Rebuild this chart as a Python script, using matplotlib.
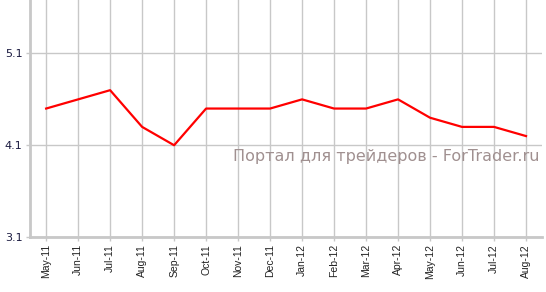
import matplotlib
matplotlib.use("Agg")
import matplotlib.pyplot as plt

months = ["May-11", "Jun-11", "Jul-11", "Aug-11", "Sep-11", "Oct-11", "Nov-11", "Dec-11",
          "Jan-12", "Feb-12", "Mar-12", "Apr-12", "May-12", "Jun-12", "Jul-12", "Aug-12"]
values = [4.5, 4.6, 4.7, 4.3, 4.1, 4.5, 4.5, 4.5,
          4.6, 4.5, 4.5, 4.6, 4.4, 4.3, 4.3, 4.2]
y_ticks = [3.1, 4.1, 5.1]

grid_col = "#c8c8c8"

fig = plt.figure(figsize=(5.46, 2.92), dpi=100)
ax = fig.add_axes([29.5 / 546, 55 / 292, (542 - 29.5) / 546, 237 / 292])

x = list(range(len(months)))
ax.plot(x, values, color="#ff0000", lw=1.6, zorder=3)

ax.set_xlim(-0.52, 15.5)
ax.set_ylim(3.1, 5.683)
ax.set_xticks(x)
ax.set_xticklabels(months, rotation=90, fontsize=7.5, family="Liberation Sans")
ax.set_yticks(y_ticks)
ax.set_yticklabels([f"{v:.1f}" for v in y_ticks], fontsize=8)
ax.tick_params(axis="both", colors=grid_col, length=3, width=1, pad=2)
for lbl in ax.get_xticklabels():
    lbl.set_color("#222222")
for lbl in ax.get_yticklabels():
    lbl.set_color("#1a1a40")

ax.grid(True, color=grid_col, lw=1)
ax.set_axisbelow(True)
for s in ["top", "right"]:
    ax.spines[s].set_visible(False)
for s in ["left", "bottom"]:
    ax.spines[s].set_color(grid_col)
    ax.spines[s].set_linewidth(2)

ax.text(0.995, 0.338, "Портал для трейдеров - ForTrader.ru", transform=ax.transAxes,
        ha="right", va="center", fontsize=11.5, color="#a09090", zorder=4)

fig.savefig("out.png", dpi=100)
